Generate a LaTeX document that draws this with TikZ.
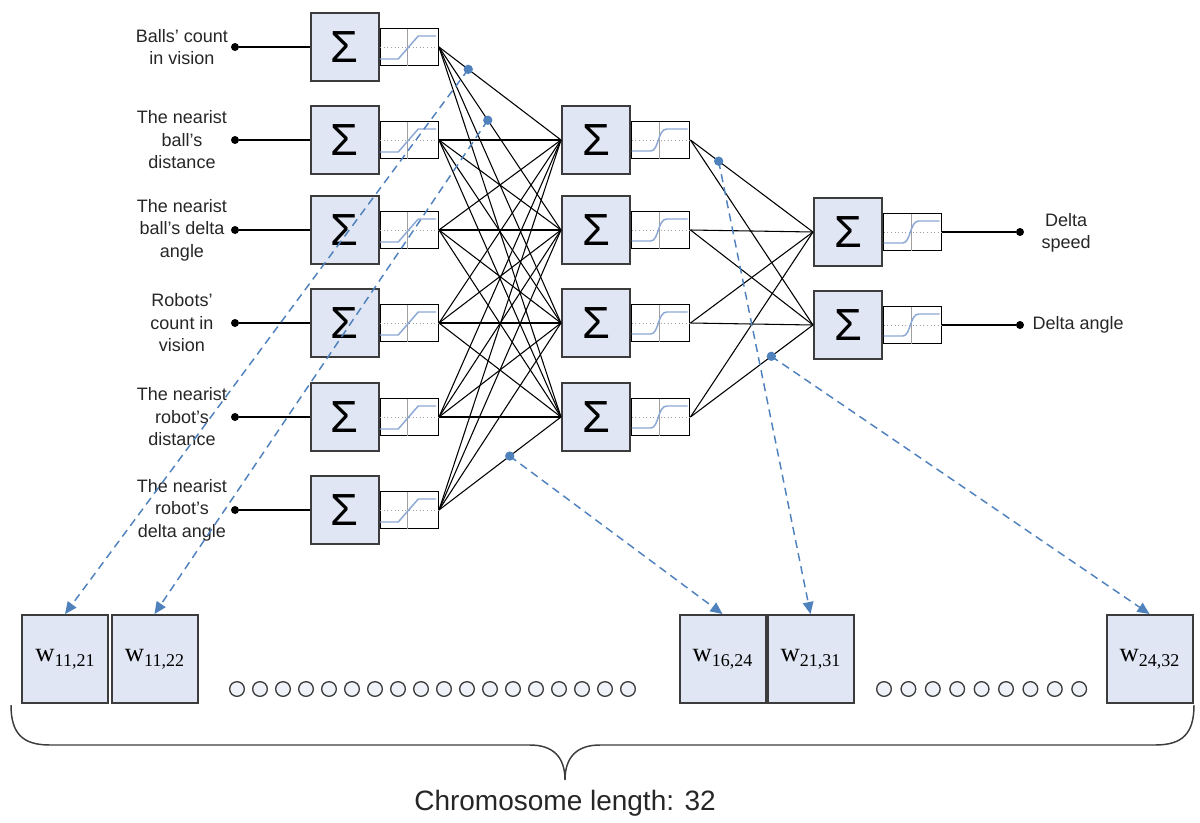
\documentclass[tikz,border=0pt]{standalone}
\usepackage{fontspec}
\setmainfont{Liberation Sans}
\newfontfamily\seriffont{Liberation Serif}
\usetikzlibrary{calc,arrows.meta}

\definecolor{boxfill}{RGB}{224,230,243}
\definecolor{boxline}{RGB}{60,60,60}
\definecolor{curveblue}{RGB}{140,168,212}
\definecolor{linkblue}{RGB}{79,129,189}
\definecolor{gridgrey}{RGB}{160,160,160}

\tikzset{
  sumbox/.style={draw=boxline, line width=1.5pt, fill=boxfill, minimum width=51pt,
    minimum height=51pt, inner sep=0pt, font=\fontsize{33.75}{36}\selectfont},
  actbox/.style={draw=black, line width=1.1pt, fill=white, minimum width=43.5pt,
    minimum height=27.75pt, inner sep=0pt, anchor=west},
  wire/.style={line width=0.8pt, black},
  wdot/.style={circle, fill=black, inner sep=0pt, minimum size=6pt},
  lbl/.style={align=center, font=\fontsize{13.5}{16.9}\selectfont, text=black!85},
  gene/.style={draw=boxline, line width=1.5pt, fill=boxfill, minimum width=64.5pt,
    minimum height=66pt, inner sep=0pt, anchor=north},
  link/.style={linkblue, dash pattern=on 6pt off 4pt, line width=1.1pt,
    -{Triangle[length=9pt,width=8pt]}},
  ldot/.style={circle, fill=linkblue, inner sep=0pt, minimum size=7pt},
  slot/.style={circle, draw=boxline, line width=1pt, fill=boxfill!50,
    minimum size=11pt, inner sep=0pt},
}

% piecewise-linear transfer curve of the input layer
\newcommand\rampcurve[1]{%
  \begin{scope}[shift={(#1.center)}]
    \draw[gridgrey, line width=0.5pt] (-2,-18.5) -- (-2,18.5);
    \draw[gridgrey, dotted, line width=0.7pt] (-29,0) -- (29,0);
    \draw[curveblue, line width=1.1pt] (-29,12) -- (-11,12) -- (9,-11) -- (27,-11);
  \end{scope}}
% sigmoid transfer curve of the hidden and output layers
\newcommand\scurve[1]{%
  \begin{scope}[shift={(#1.center)}]
    \draw[gridgrey, line width=0.5pt] (-1,-18.5) -- (-1,18.5);
    \draw[gridgrey, dotted, line width=0.7pt] (-29,0) -- (29,0);
    \draw[curveblue, line width=1.1pt] (-29,11) -- (-10,11)
      .. controls (-2,11) and (-3,-11) .. (6,-11) -- (27,-11);
  \end{scope}}
% chromosome gene label
\newcommand\genetext[1]{{\seriffont\fontsize{20}{20}\selectfont w\raisebox{-3.5pt}{\fontsize{13.5}{14}\selectfont #1}}}

\begin{document}
\begin{tikzpicture}[x=0.75pt, y=-0.75pt]
\useasboundingbox (0,0) rectangle (1200,822);

% ---- input layer ----
\foreach \n/\yy in {1/47,2/140,3/230,4/323,5/417,6/510}{
  \node[sumbox] (i\n) at (344.5,\yy) {Σ};
  \node[actbox] (gi\n) at (i\n.east) {};
  \rampcurve{gi\n}
  \node[wdot] (x\n) at (235,\yy) {};
  \draw[wire] (x\n) -- (i\n.west);
}
\node[lbl] (l1) at (182,47)  {Balls’ count\\in vision};
\node[lbl] (l2) at (182,140) {The nearist\\ball’s\\distance};
\node[lbl] (l3) at (182,230) {The nearist\\ball’s delta\\angle};
\node[lbl] (l4) at (182,323) {Robots’\\count in\\vision};
\node[lbl] (l5) at (182,417) {The nearist\\robot’s\\distance};
\node[lbl] (l6) at (182,510) {The nearist\\robot’s\\delta angle};

% ---- hidden layer ----
\foreach \n/\yy in {1/140,2/230,3/323,4/417}{
  \node[sumbox] (h\n) at (596,\yy) {Σ};
  \node[actbox] (gh\n) at (h\n.east) {};
  \scurve{gh\n}
}

% ---- output layer ----
\foreach \n/\yy in {1/232,2/325}{
  \node[sumbox] (o\n) at (848,\yy) {Σ};
  \node[actbox] (go\n) at (o\n.east) {};
  \scurve{go\n}
  \node[wdot] (y\n) at (1020,\yy) {};
  \draw[wire] (go\n.east) -- (y\n);
}
\node[lbl, anchor=west] (ol1) at (1037,233) {Delta\\speed};
\node[lbl, anchor=west] (ol2) at (1028,325) {Delta angle};

% ---- weighted connections ----
\foreach \a in {1,...,6}{
  \foreach \b in {1,...,4}{
    \draw[wire] (gi\a.east) -- (h\b.west);
  }
}
\foreach \a in {1,...,4}{
  \foreach \b in {1,2}{
    \draw[wire] (gh\a.east) -- (o\b.west);
  }
}

% ---- chromosome genes ----
\node[gene] (w1) at (65,614)    {\genetext{11,21}};
\node[gene] (w2) at (154.5,614) {\genetext{11,22}};
\node[gene] (w3) at (722.5,614) {\genetext{16,24}};
\node[gene] (w4) at (810.5,614) {\genetext{21,31}};
\node[gene] (w5) at (1149.5,614){\genetext{24,32}};

\foreach \k in {0,...,17}{
  \node[slot] (sa\k) at (237+23*\k,689) {};
}
\foreach \k in {0,...,8}{
  \node[slot] (sb\k) at (884+24.4*\k,689) {};
}

% ---- weight-to-gene mapping ----
\path (gi1.east) -- (h1.west) coordinate[pos=0.24] (d1);
\path (gi1.east) -- (h2.west) coordinate[pos=0.40] (d2);
\path (gi6.east) -- (h4.west) coordinate[pos=0.58] (d3);
\path (gh1.east) -- (o1.west) coordinate[pos=0.23] (d4);
\path (gh4.east) -- (o2.west) coordinate[pos=0.66] (d5);
\foreach \d/\w in {d1/w1,d2/w2,d3/w3,d4/w4,d5/w5}{
  \draw[link] (\d) -- (\w.north);
  \node[ldot] at (\d) {};
}

% ---- brace and caption ----
\draw[boxline, line width=1.1pt]
  (11,705) .. controls (11,733) and (22,745) .. (50,745) -- (530,745)
  .. controls (553,745) and (565,757) .. (565,780)
  .. controls (565,757) and (577,745) .. (600,745) -- (1155,745)
  .. controls (1183,745) and (1194,733) .. (1194,705);
\node[font=\fontsize{21}{25}\selectfont, text=black!85] (cap) at (565,803) {Chromosome length: 32};
\end{tikzpicture}
\end{document}
